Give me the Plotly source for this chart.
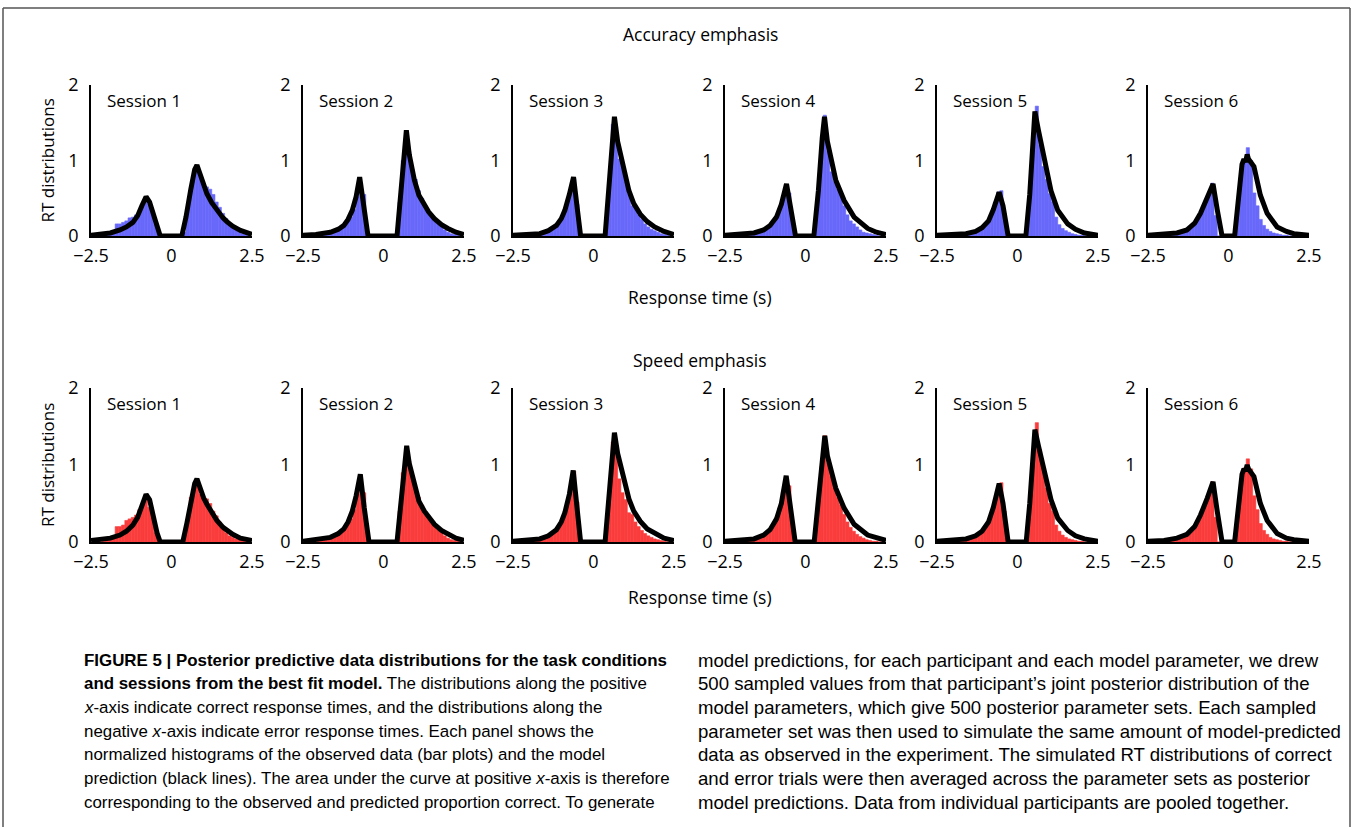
import plotly.graph_objects as go

W, H = 1355, 827

# ---------------- data ----------------
SESSIONS = ["Session 1", "Session 2", "Session 3", "Session 4", "Session 5", "Session 6"]
ROW_TITLES = ["Accuracy emphasis", "Speed emphasis"]

# histogram bin centres (width 0.1)
HIST_X = [-2.2, -2.1, -2.0, -1.9, -1.8, -1.7, -1.6, -1.5, -1.4, -1.3, -1.2, -1.1, -1.0, -0.9, -0.8,
          -0.7, -0.6, -0.5, -0.4, -0.3, -0.2, -0.1, 0.0,
          0.1, 0.2, 0.3, 0.4, 0.5, 0.6, 0.7, 0.8, 0.9, 1.0, 1.1, 1.2, 1.3, 1.4, 1.5, 1.6, 1.7, 1.8,
          1.9, 2.0, 2.1, 2.2, 2.3, 2.4]

# observed histograms, accuracy emphasis
ACC_HIST_1 = [0, 0.01, 0.01, 0.02, 0.05, 0.16, 0.16, 0.18, 0.20, 0.24, 0.25, 0.28, 0.33, 0.40, 0.45, 0.42, 0.34, 0.15, 0.02, 0, 0, 0,
              0,
              0, 0, 0, 0.05, 0.35, 0.62, 0.80, 0.85, 0.78, 0.70, 0.65, 0.62, 0.55, 0.45, 0.38, 0.30, 0.23, 0.16, 0.11, 0.08, 0.05, 0.03, 0.02, 0.01]
ACC_HIST_2 = [0, 0, 0.01, 0.02, 0.03, 0.04, 0.05, 0.08, 0.10, 0.14, 0.15, 0.19, 0.25, 0.35, 0.52, 0.70, 0.55, 0.06, 0, 0, 0, 0,
              0,
              0, 0, 0, 0, 0.45, 1.00, 1.25, 1.12, 0.88, 0.75, 0.60, 0.50, 0.40, 0.32, 0.26, 0.22, 0.16, 0.12, 0.08, 0.05, 0.03, 0.02, 0.01, 0]
ACC_HIST_3 = [0, 0, 0.01, 0.01, 0.02, 0.03, 0.04, 0.06, 0.09, 0.10, 0.12, 0.16, 0.22, 0.32, 0.45, 0.62, 0.76, 0.42, 0.03, 0, 0, 0,
              0,
              0, 0, 0, 0.05, 0.75, 1.48, 1.45, 1.02, 0.90, 0.72, 0.55, 0.40, 0.38, 0.28, 0.22, 0.16, 0.12, 0.09, 0.07, 0.05, 0.03, 0.02, 0.01, 0]
ACC_HIST_4 = [0, 0, 0, 0.01, 0.01, 0.02, 0.03, 0.04, 0.05, 0.07, 0.09, 0.12, 0.17, 0.26, 0.35, 0.52, 0.66, 0.57, 0.18, 0, 0, 0,
              0,
              0, 0, 0.15, 0.60, 1.05, 1.60, 1.12, 0.85, 0.72, 0.62, 0.56, 0.40, 0.28, 0.20, 0.16, 0.12, 0.08, 0.05, 0.04, 0.03, 0.02, 0.01, 0, 0]
ACC_HIST_5 = [0, 0, 0, 0, 0.01, 0.01, 0.02, 0.03, 0.04, 0.05, 0.07, 0.10, 0.14, 0.20, 0.30, 0.45, 0.58, 0.60, 0.30, 0, 0, 0,
              0,
              0, 0, 0.10, 0.55, 1.25, 1.72, 1.20, 0.92, 0.75, 0.56, 0.45, 0.25, 0.15, 0.10, 0.07, 0.05, 0.03, 0.02, 0.01, 0.01, 0, 0, 0, 0]
ACC_HIST_6 = [0, 0, 0.01, 0.01, 0.02, 0.03, 0.04, 0.05, 0.07, 0.09, 0.12, 0.16, 0.22, 0.28, 0.35, 0.45, 0.56, 0.70, 0.27, 0, 0, 0,
              0,
              0, 0.05, 0.40, 0.85, 1.00, 1.17, 1.00, 0.57, 0.40, 0.22, 0.14, 0.09, 0.06, 0.04, 0.03, 0.02, 0.01, 0.01, 0, 0, 0, 0, 0, 0]

# observed histograms, speed emphasis
SPD_HIST_1 = [0, 0.01, 0.02, 0.04, 0.08, 0.20, 0.20, 0.22, 0.28, 0.30, 0.32, 0.35, 0.42, 0.50, 0.55, 0.45, 0.38, 0.12, 0.02, 0, 0, 0,
              0,
              0, 0, 0, 0.05, 0.30, 0.58, 0.70, 0.74, 0.62, 0.58, 0.56, 0.50, 0.40, 0.34, 0.26, 0.16, 0.12, 0.08, 0.06, 0.04, 0.03, 0.02, 0.01, 0]
SPD_HIST_2 = [0, 0, 0.01, 0.02, 0.03, 0.05, 0.07, 0.10, 0.13, 0.16, 0.18, 0.24, 0.30, 0.42, 0.62, 0.82, 0.64, 0.08, 0, 0, 0, 0,
              0,
              0, 0, 0, 0, 0.40, 0.90, 1.12, 1.05, 0.85, 0.70, 0.58, 0.48, 0.40, 0.33, 0.27, 0.22, 0.16, 0.12, 0.08, 0.05, 0.03, 0.02, 0.01, 0]
SPD_HIST_3 = [0, 0, 0.01, 0.02, 0.03, 0.04, 0.06, 0.08, 0.10, 0.12, 0.14, 0.18, 0.25, 0.36, 0.52, 0.72, 0.92, 0.52, 0.04, 0, 0, 0,
              0,
              0, 0, 0, 0.05, 0.65, 1.30, 1.22, 0.82, 0.64, 0.55, 0.38, 0.36, 0.26, 0.20, 0.15, 0.11, 0.08, 0.06, 0.04, 0.03, 0.02, 0.01, 0, 0]
SPD_HIST_4 = [0, 0, 0.01, 0.01, 0.02, 0.03, 0.04, 0.05, 0.07, 0.09, 0.12, 0.16, 0.22, 0.32, 0.45, 0.65, 0.82, 0.73, 0.20, 0, 0, 0,
              0,
              0, 0, 0.12, 0.55, 0.98, 1.38, 1.02, 0.85, 0.70, 0.58, 0.48, 0.36, 0.26, 0.19, 0.14, 0.10, 0.07, 0.05, 0.03, 0.02, 0.01, 0.01, 0, 0]
SPD_HIST_5 = [0, 0, 0, 0.01, 0.01, 0.02, 0.03, 0.04, 0.05, 0.07, 0.09, 0.12, 0.17, 0.25, 0.38, 0.55, 0.72, 0.77, 0.40, 0, 0, 0,
              0,
              0, 0, 0.10, 0.50, 1.20, 1.55, 1.20, 0.95, 0.70, 0.50, 0.40, 0.22, 0.14, 0.09, 0.06, 0.04, 0.03, 0.02, 0.01, 0.01, 0, 0, 0, 0]
SPD_HIST_6 = [0, 0, 0.01, 0.02, 0.03, 0.04, 0.05, 0.07, 0.09, 0.11, 0.14, 0.19, 0.25, 0.32, 0.42, 0.52, 0.64, 0.78, 0.32, 0, 0, 0,
              0,
              0, 0.05, 0.38, 0.80, 0.96, 1.08, 0.95, 0.60, 0.42, 0.24, 0.15, 0.10, 0.06, 0.04, 0.03, 0.02, 0.01, 0.01, 0, 0, 0, 0, 0, 0]

# model predictions (black lines), accuracy emphasis
ACC_CURVE_X_1 = [-2.5, -2.2, -1.9, -1.6, -1.4, -1.2, -1.05, -0.92, -0.79, -0.68, -0.55, -0.45, -0.35,
                 0.32, 0.45, 0.6, 0.72, 0.79, 0.88, 1.0, 1.1, 1.25, 1.41, 1.6, 1.72, 1.9, 2.14, 2.5]
ACC_CURVE_Y_1 = [0.01, 0.02, 0.04, 0.08, 0.12, 0.18, 0.27, 0.40, 0.52, 0.45, 0.25, 0.10, 0.0,
                 0.0, 0.25, 0.62, 0.88, 0.94, 0.82, 0.66, 0.56, 0.44, 0.34, 0.24, 0.19, 0.13, 0.075, 0.02]
ACC_CURVE_X_2 = [-2.5, -2.1, -1.65, -1.4, -1.23, -1.1, -0.97, -0.85, -0.74, -0.62, -0.48,
                 0.42, 0.55, 0.65, 0.71, 0.8, 0.96, 1.1, 1.27, 1.4, 1.58, 1.8, 2.0, 2.25, 2.5]
ACC_CURVE_Y_2 = [0.01, 0.02, 0.05, 0.09, 0.14, 0.22, 0.34, 0.52, 0.78, 0.42, 0.0,
                 0.0, 0.60, 1.10, 1.40, 1.08, 0.74, 0.54, 0.41, 0.32, 0.23, 0.15, 0.10, 0.05, 0.02]
ACC_CURVE_X_3 = [-2.5, -2.0, -1.67, -1.4, -1.15, -1.0, -0.89, -0.75, -0.62, -0.5, -0.4,
                 0.36, 0.5, 0.6, 0.65, 0.75, 0.94, 1.1, 1.25, 1.45, 1.67, 1.9, 2.19, 2.5]
ACC_CURVE_Y_3 = [0.01, 0.02, 0.03, 0.07, 0.14, 0.23, 0.34, 0.55, 0.78, 0.35, 0.0,
                 0.0, 0.75, 1.35, 1.58, 1.25, 0.87, 0.60, 0.43, 0.29, 0.19, 0.12, 0.06, 0.02]
ACC_CURVE_X_4 = [-2.5, -2.0, -1.6, -1.3, -1.1, -0.9, -0.75, -0.59, -0.45, -0.31,
                 0.26, 0.4, 0.52, 0.59, 0.68, 0.78, 0.94, 1.2, 1.51, 1.93, 2.2, 2.5]
ACC_CURVE_Y_4 = [0.01, 0.02, 0.04, 0.08, 0.14, 0.25, 0.42, 0.69, 0.35, 0.0,
                 0.0, 0.60, 1.30, 1.58, 1.25, 1.05, 0.74, 0.47, 0.25, 0.10, 0.05, 0.02]
ACC_CURVE_X_5 = [-2.5, -2.0, -1.6, -1.3, -1.1, -0.9, -0.75, -0.57, -0.45, -0.29,
                 0.26, 0.38, 0.48, 0.54, 0.65, 0.83, 1.04, 1.25, 1.56, 1.8, 2.08, 2.5]
ACC_CURVE_Y_5 = [0.01, 0.02, 0.03, 0.06, 0.11, 0.20, 0.35, 0.58, 0.40, 0.0,
                 0.0, 0.55, 1.30, 1.65, 1.40, 1.05, 0.60, 0.34, 0.16, 0.09, 0.04, 0.01]
ACC_CURVE_X_6 = [-2.5, -2.0, -1.6, -1.29, -1.05, -0.87, -0.66, -0.48, -0.35, -0.2,
                 0.19, 0.3, 0.42, 0.48, 0.53, 0.58, 0.62, 0.79, 0.99, 1.2, 1.51, 1.8, 2.03, 2.5]
ACC_CURVE_Y_6 = [0.01, 0.02, 0.04, 0.08, 0.17, 0.30, 0.50, 0.69, 0.35, 0.0,
                 0.0, 0.45, 0.95, 1.02, 0.98, 1.08, 1.02, 0.92, 0.54, 0.30, 0.12, 0.06, 0.03, 0.01]

# model predictions (black lines), speed emphasis
SPD_CURVE_X_1 = [-2.5, -2.2, -1.9, -1.6, -1.4, -1.2, -1.05, -0.92, -0.79, -0.68, -0.55, -0.45, -0.35,
                 0.35, 0.48, 0.6, 0.72, 0.79, 0.88, 1.0, 1.1, 1.25, 1.41, 1.6, 1.72, 1.9, 2.14, 2.5]
SPD_CURVE_Y_1 = [0.02, 0.03, 0.05, 0.09, 0.14, 0.22, 0.32, 0.47, 0.62, 0.55, 0.30, 0.12, 0.0,
                 0.0, 0.25, 0.55, 0.76, 0.82, 0.70, 0.57, 0.49, 0.38, 0.28, 0.19, 0.15, 0.10, 0.05, 0.02]
SPD_CURVE_X_2 = [-2.5, -2.1, -1.65, -1.4, -1.23, -1.1, -0.97, -0.85, -0.72, -0.6, -0.45,
                 0.42, 0.55, 0.65, 0.72, 0.8, 0.96, 1.1, 1.27, 1.4, 1.58, 1.8, 2.0, 2.25, 2.5]
SPD_CURVE_Y_2 = [0.01, 0.03, 0.06, 0.11, 0.17, 0.26, 0.40, 0.60, 0.88, 0.45, 0.0,
                 0.0, 0.55, 1.00, 1.25, 1.02, 0.72, 0.53, 0.40, 0.32, 0.23, 0.15, 0.10, 0.05, 0.02]
SPD_CURVE_X_3 = [-2.5, -2.0, -1.67, -1.4, -1.15, -1.0, -0.89, -0.75, -0.63, -0.5, -0.4,
                 0.36, 0.5, 0.6, 0.65, 0.75, 0.94, 1.1, 1.25, 1.45, 1.67, 1.9, 2.19, 2.5]
SPD_CURVE_Y_3 = [0.01, 0.02, 0.04, 0.08, 0.16, 0.26, 0.38, 0.62, 0.93, 0.40, 0.0,
                 0.0, 0.70, 1.22, 1.42, 1.15, 0.80, 0.56, 0.40, 0.27, 0.17, 0.11, 0.05, 0.02]
SPD_CURVE_X_4 = [-2.5, -2.0, -1.6, -1.3, -1.1, -0.9, -0.75, -0.6, -0.46, -0.32,
                 0.27, 0.4, 0.52, 0.6, 0.68, 0.78, 0.94, 1.2, 1.51, 1.93, 2.2, 2.5]
SPD_CURVE_Y_4 = [0.01, 0.02, 0.04, 0.09, 0.16, 0.30, 0.50, 0.86, 0.42, 0.0,
                 0.0, 0.55, 1.15, 1.38, 1.12, 0.95, 0.70, 0.44, 0.23, 0.09, 0.05, 0.02]
SPD_CURVE_X_5 = [-2.5, -2.0, -1.6, -1.3, -1.1, -0.9, -0.75, -0.57, -0.45, -0.29,
                 0.27, 0.38, 0.48, 0.54, 0.65, 0.83, 1.04, 1.25, 1.56, 1.8, 2.08, 2.5]
SPD_CURVE_Y_5 = [0.01, 0.02, 0.04, 0.08, 0.14, 0.26, 0.45, 0.76, 0.50, 0.0,
                 0.0, 0.50, 1.15, 1.46, 1.25, 0.95, 0.55, 0.31, 0.15, 0.08, 0.04, 0.01]
SPD_CURVE_X_6 = [-2.5, -2.0, -1.6, -1.29, -1.05, -0.87, -0.66, -0.48, -0.35, -0.2,
                 0.19, 0.3, 0.42, 0.48, 0.53, 0.58, 0.62, 0.79, 0.99, 1.2, 1.51, 1.8, 2.03, 2.5]
SPD_CURVE_Y_6 = [0.01, 0.02, 0.05, 0.10, 0.20, 0.35, 0.57, 0.78, 0.40, 0.0,
                 0.0, 0.42, 0.88, 0.95, 0.92, 1.00, 0.95, 0.85, 0.50, 0.28, 0.11, 0.05, 0.03, 0.01]

X_TICKS = [-2.5, 0, 2.5]
X_TICK_LABELS = ["\u22122.5", "0", "2.5"]
Y_TICKS = [0, 1, 2]
Y_TICK_LABELS = ["0", "1", "2"]

CAPTION_LEFT = [
    "<b>FIGURE 5 | Posterior predictive data distributions for the task conditions</b>",
    "<b>and sessions from the best fit model.</b> The distributions along the positive",
    "<i>x</i>-axis indicate correct response times, and the distributions along the",
    "negative <i>x</i>-axis indicate error response times. Each panel shows the",
    "normalized histograms of the observed data (bar plots) and the model",
    "prediction (black lines). The area under the curve at positive <i>x</i>-axis is therefore",
    "corresponding to the observed and predicted proportion correct. To generate",
]
CAPTION_RIGHT = [
    "model predictions, for each participant and each model parameter, we drew",
    "500 sampled values from that participant\u2019s joint posterior distribution of the",
    "model parameters, which give 500 posterior parameter sets. Each sampled",
    "parameter set was then used to simulate the same amount of model-predicted",
    "data as observed in the experiment. The simulated RT distributions of correct",
    "and error trials were then averaged across the parameter sets as posterior",
    "model predictions. Data from individual participants are pooled together.",
]

ROWS = [
    dict(hist=[ACC_HIST_1, ACC_HIST_2, ACC_HIST_3, ACC_HIST_4, ACC_HIST_5, ACC_HIST_6],
         cx=[ACC_CURVE_X_1, ACC_CURVE_X_2, ACC_CURVE_X_3, ACC_CURVE_X_4, ACC_CURVE_X_5, ACC_CURVE_X_6],
         cy=[ACC_CURVE_Y_1, ACC_CURVE_Y_2, ACC_CURVE_Y_3, ACC_CURVE_Y_4, ACC_CURVE_Y_5, ACC_CURVE_Y_6],
         color="rgb(104,104,250)", top=85, bottom=236, title_y=34, xlabel_y=297),
    dict(hist=[SPD_HIST_1, SPD_HIST_2, SPD_HIST_3, SPD_HIST_4, SPD_HIST_5, SPD_HIST_6],
         cx=[SPD_CURVE_X_1, SPD_CURVE_X_2, SPD_CURVE_X_3, SPD_CURVE_X_4, SPD_CURVE_X_5, SPD_CURVE_X_6],
         cy=[SPD_CURVE_Y_1, SPD_CURVE_Y_2, SPD_CURVE_Y_3, SPD_CURVE_Y_4, SPD_CURVE_Y_5, SPD_CURVE_Y_6],
         color="rgb(250,60,60)", top=388, bottom=542, title_y=360, xlabel_y=597),
]

# ---------------- layout helpers ----------------
PANEL_LEFT = [91, 303, 513, 725, 937, 1148]
PANEL_W = 161
FONT = "Open Sans, Liberation Sans, sans-serif"
CAP_FONT = "Liberation Sans, Arial, sans-serif"


def px(x):
    return x / W


def py(y):
    return 1 - y / H


fig = go.Figure()
layout = dict(template="none", width=W, height=H, margin=dict(l=0, r=0, t=0, b=0, pad=0),
              autosize=False,
              paper_bgcolor="white", plot_bgcolor="rgba(0,0,0,0)", showlegend=False,
              barmode="overlay")
annotations = []

k = 0
for r, row in enumerate(ROWS):
    for c in range(6):
        k += 1
        xa = "x" if k == 1 else f"x{k}"
        ya = "y" if k == 1 else f"y{k}"
        fig.add_trace(go.Bar(x=HIST_X, y=row["hist"][c], width=0.1,
                             marker=dict(color=row["color"], line=dict(width=0.6, color=row["color"])),
                             xaxis=xa, yaxis=ya, hoverinfo="skip"))
        fig.add_trace(go.Scatter(x=row["cx"][c], y=row["cy"][c], mode="lines",
                                 line=dict(color="black", width=5),
                                 cliponaxis=False, xaxis=xa, yaxis=ya, hoverinfo="skip"))
        left = PANEL_LEFT[c]
        layout["xaxis" if k == 1 else f"xaxis{k}"] = dict(
            domain=[px(left), px(left + PANEL_W)], anchor=ya, range=[-2.5, 2.5],
            showgrid=False, zeroline=False, showline=True, linecolor="black", linewidth=1.5,
            ticks="", tickvals=X_TICKS, ticktext=X_TICK_LABELS, automargin=False,
            ticklabelstandoff=3,
            tickfont=dict(family=FONT, size=18, color="black"))
        layout["yaxis" if k == 1 else f"yaxis{k}"] = dict(
            domain=[py(row["bottom"]), py(row["top"])], anchor=xa, range=[0, 2],
            showgrid=False, zeroline=False, showline=True, linecolor="black", linewidth=1.5,
            ticks="", tickvals=Y_TICKS, ticktext=Y_TICK_LABELS, automargin=False,
            ticklabelstandoff=7,
            tickfont=dict(family=FONT, size=18, color="black"))
        annotations.append(dict(x=px(left + 14), y=py(row["top"] + 15), xref="paper", yref="paper",
                                text=SESSIONS[c], showarrow=False, xanchor="left", yanchor="middle",
                                font=dict(family=FONT, size=17, color="black")))
    annotations.append(dict(x=px(700), y=py(row["title_y"]), xref="paper", yref="paper",
                            text=ROW_TITLES[r], showarrow=False, xanchor="center", yanchor="middle",
                            font=dict(family=FONT, size=17.5, color="black")))
    annotations.append(dict(x=px(700), y=py(row["xlabel_y"]), xref="paper", yref="paper",
                            text="Response time (s)", showarrow=False, xanchor="center", yanchor="middle",
                            font=dict(family=FONT, size=17.5, color="black")))
    annotations.append(dict(x=px(47), y=py((row["top"] + row["bottom"]) / 2), xref="paper", yref="paper",
                            text="RT distributions", showarrow=False, textangle=-90,
                            xanchor="center", yanchor="middle",
                            font=dict(family=FONT, size=17, color="black")))

for i, line in enumerate(CAPTION_LEFT):
    annotations.append(dict(x=px(82), y=py(660 + 23.7 * i), xref="paper", yref="paper",
                            text=line, showarrow=False, xanchor="left", yanchor="middle",
                            font=dict(family=CAP_FONT, size=16.9, color="black")))
for i, line in enumerate(CAPTION_RIGHT):
    annotations.append(dict(x=px(696), y=py(660 + 23.7 * i), xref="paper", yref="paper",
                            text=line, showarrow=False, xanchor="left", yanchor="middle",
                            font=dict(family=CAP_FONT, size=18.6, color="black")))

layout["annotations"] = annotations
layout["shapes"] = [
    dict(type="line", xref="paper", yref="paper", x0=px(3), x1=px(1350), y0=py(8), y1=py(8),
         line=dict(color="#555555", width=1.5)),
    dict(type="line", xref="paper", yref="paper", x0=px(3), x1=px(3), y0=py(8), y1=0,
         line=dict(color="#555555", width=1.5)),
    dict(type="line", xref="paper", yref="paper", x0=px(1350), x1=px(1350), y0=py(8), y1=0,
         line=dict(color="#555555", width=1.5)),
]
fig.update_layout(**layout)
fig.write_html("out.html")
